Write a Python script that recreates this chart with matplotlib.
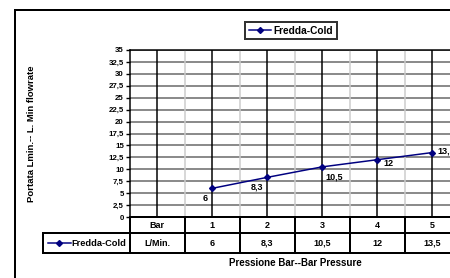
import numpy as np
import matplotlib.pyplot as plt
from matplotlib.patches import Rectangle
from matplotlib.lines import Line2D
import matplotlib.transforms as mtrans

plt.rcParams['font.family'] = 'Liberation Sans'
plt.rcParams['font.weight'] = 'bold'

# data
categories = ['Bar', '1', '2', '3', '4', '5']
flow = [None, 6, 8.3, 10.5, 12, 13.5]
flow_labels = ['', '6', '8,3', '10,5', '12', '13,5']
series_name = 'Fredda-Cold'
row_name = 'L/Min.'
yticks = np.arange(0, 35.1, 2.5)
ytick_labels = ['0', '2,5', '5', '7,5', '10', '12,5', '15', '17,5', '20',
                '22,5', '25', '27,5', '30', '32,5', '35']

W, H = 450, 278
fig = plt.figure(figsize=(4.5, 2.78), dpi=100)
px = 0.72  # one pixel in points

# outer chart frame (cut off right and bottom)
fig.patches.append(Rectangle((15 / W, -0.1), 1.2, 1 - 10 / H + 0.1,
                             transform=fig.transFigure, fill=False,
                             edgecolor='black', linewidth=2 * px))

left, right, top, bottom = 129.5, 459.5, 50, 217
ax = fig.add_axes([left / W, 1 - bottom / H, (right - left) / W, (bottom - top) / H])
ax.set_xlim(-0.5, 5.5)
ax.set_ylim(0, 35)

# grid
for y in yticks[1:]:
    ax.axhline(y, color='#8c8c8c', linewidth=2 * px, zorder=1)
for x in np.arange(0.5, 5.5, 1):
    ax.axvline(x, color='#cccccc', linewidth=1.5 * px, zorder=1)
for x in range(len(categories)):
    ax.axvline(x, color='black', linewidth=1.5 * px, zorder=2)

xs = [i for i, v in enumerate(flow) if v is not None]
ys = [v for v in flow if v is not None]
ax.plot(xs, ys, color='#000080', linewidth=1.5 * px, marker='D',
        markersize=3, zorder=4, clip_on=False)

# data labels
offsets = {1: (-7, -10), 2: (-10, -10), 3: (12, -10), 4: (11, -4), 5: (14, 2)}
for i in xs:
    ax.annotate(flow_labels[i], (i, flow[i]), xytext=offsets[i], textcoords='offset pixels',
                fontsize=6.5, ha='center', va='center', annotation_clip=False)

ax.set_yticks(yticks)
ax.set_yticklabels(ytick_labels, fontsize=5.7)
ax.tick_params(axis='y', length=3, width=1, pad=1)
ax.set_xticks([])
for s in ['right', 'bottom']:
    ax.spines[s].set_visible(False)
ax.spines['left'].set_linewidth(1.5 * px)
ax.spines['top'].set_linewidth(1.5 * px)

# data table under the axis
tr = mtrans.blended_transform_factory(ax.transData, ax.transAxes)
ph = bottom - top
r1 = -16 / ph
r2 = -36 / ph
lw = 2 * px
ax.plot([-0.5, 5.5], [0, 0], color='black', linewidth=lw, transform=tr, clip_on=False)
ax.plot([-2.07, 5.5], [r1, r1], color='black', linewidth=lw, transform=tr, clip_on=False)
ax.plot([-2.07, 5.5], [r2, r2], color='black', linewidth=lw, transform=tr, clip_on=False)
for x in np.arange(-0.5, 5.6, 1):
    ax.plot([x, x], [0, r2], color='black', linewidth=lw, transform=tr, clip_on=False)
ax.plot([-2.07, -2.07], [r1, r2], color='black', linewidth=lw, transform=tr, clip_on=False)

for i, c in enumerate(categories):
    ax.text(i, r1 / 2, c, transform=tr, ha='center', va='center', fontsize=6.5)
    val = row_name if i == 0 else flow_labels[i]
    ax.text(i, (r1 + r2) / 2, val, transform=tr, ha='center', va='center', fontsize=6.5)

ax.plot([-1.98, -1.57], [(r1 + r2) / 2] * 2, color='#000080', linewidth=1.5 * px,
        transform=tr, clip_on=False)
ax.plot([-1.775], [(r1 + r2) / 2], color='#000080', marker='D', markersize=3,
        transform=tr, clip_on=False)
ax.text(-1.56, (r1 + r2) / 2, series_name, transform=tr, ha='left', va='center', fontsize=6.7)

# axis titles
fig.text(32 / W, 1 - 134 / H, 'Portata Lmin.-- L. Min flowrate', rotation=90,
         ha='center', va='center', fontsize=6.8)
fig.text(295 / W, 1 - 263 / H, 'Pressione Bar--Bar Pressure',
         ha='center', va='center', fontsize=7)

# legend
handle = Line2D([], [], color='#000080', linewidth=1.5 * px, marker='D', markersize=3)
leg = fig.legend([handle], [series_name], loc='center', bbox_to_anchor=(291 / W, 1 - 30.5 / H),
                 fontsize=7.3, frameon=True, fancybox=False, handlelength=2.2,
                 handletextpad=0.2, borderpad=0.35, borderaxespad=0)
leg.get_frame().set_edgecolor('black')
leg.get_frame().set_linewidth(2 * px)

fig.savefig('out.png', dpi=100)
